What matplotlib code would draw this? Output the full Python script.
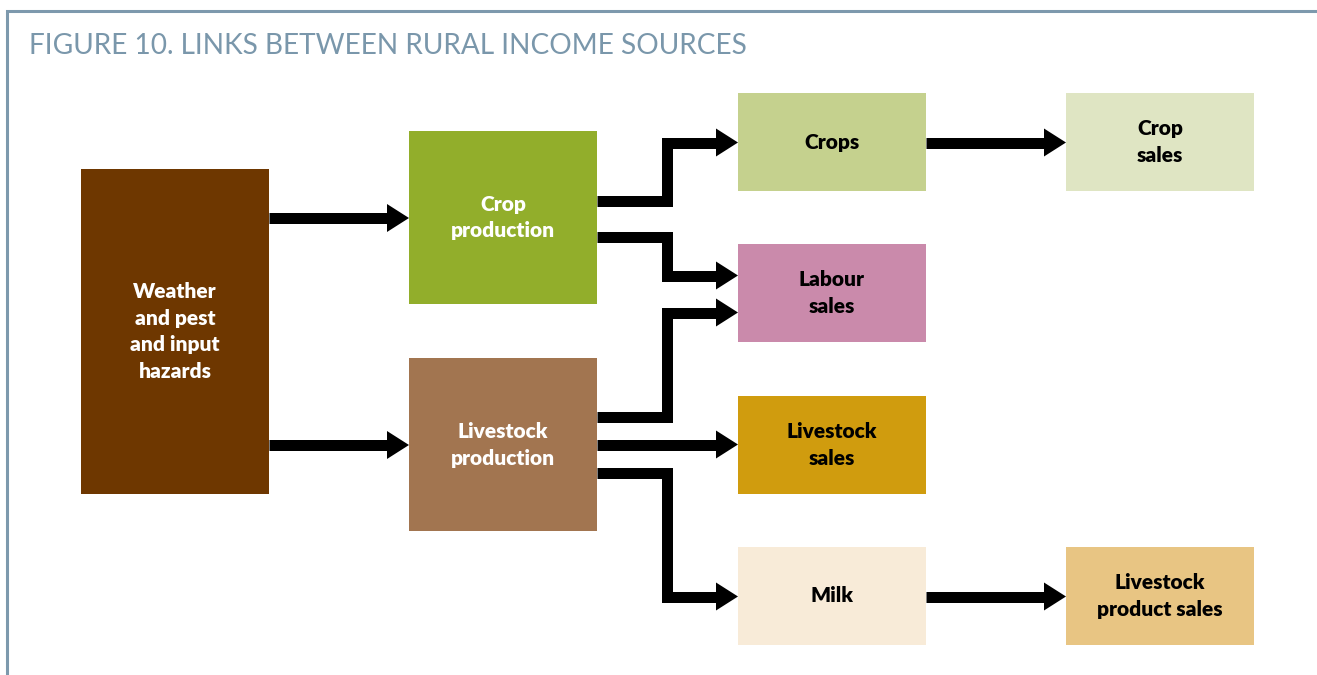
import matplotlib.pyplot as plt
from matplotlib.patches import Rectangle, Polygon

# boxes: label, (x0, y0, x1, y1) in pixels from top-left, fill, text colour
nombres = ["Weather\nand pest\nand input\nhazards", "Crop\nproduction", "Livestock\nproduction",
           "Crops", "Labour\nsales", "Livestock\nsales", "Milk", "Crop\nsales",
           "Livestock\nproduct sales"]
cajas = [(81, 169, 269, 494), (409, 131, 597, 304), (409, 358, 597, 531),
         (738, 93, 926, 191), (738, 244, 926, 342), (738, 396, 926, 494),
         (738, 547, 926, 645), (1066, 93, 1254, 191), (1066, 547, 1254, 645)]
rellenos = ["#6e3700", "#92ae2b", "#a27550", "#c5d18e", "#ca8aab", "#d09c0e",
            "#f8ebd8", "#dfe5c3", "#e8c583"]
colores_txt = ["white", "white", "white", "black", "black", "black", "black", "black", "black"]

# arrow paths (elbow connectors), last point is the arrow tip
flechas = [
    [(269, 218), (409, 218)],
    [(269, 445), (409, 445)],
    [(597, 200.5), (667, 200.5), (667, 142.5), (738, 142.5)],
    [(597, 237), (667, 237), (667, 275.5), (738, 275.5)],
    [(597, 416.5), (667, 416.5), (667, 312.5), (738, 312.5)],
    [(597, 444.5), (738, 444.5)],
    [(597, 472.5), (667, 472.5), (667, 596.5), (738, 596.5)],
    [(926, 142.5), (1066, 142.5)],
    [(926, 596.5), (1066, 596.5)],
]

W, H = 1317, 675
ventana = plt.figure(figsize=(W / 100, H / 100), dpi=100)
plano = ventana.add_axes([0, 0, 1, 1])
plano.set_xlim(0, W)
plano.set_ylim(H, 0)
plano.axis('off')

# frame
borde = "#7d99ad"
plano.plot([7, 7, W], [H, 11, 11], color=borde, lw=2.2, solid_joinstyle='miter')

plano.text(29, 46, "FIGURE 10. LINKS BETWEEN RURAL INCOME SOURCES", color="#7a97ab",
           fontsize=20.2, family="Lato", va="center", ha="left")

for nom, (x0, y0, x1, y1), c, tc in zip(nombres, cajas, rellenos, colores_txt):
    plano.add_patch(Rectangle((x0, y0), x1 - x0, y1 - y0, facecolor=c, edgecolor='none'))
    plano.text((x0 + x1) / 2, (y0 + y1) / 2, nom, color=tc, fontsize=15, family="Lato",
               weight="heavy", ha="center", va="center", linespacing=1.5)

grosor = 11 * 72 / 100
largo_punta = 21
media_punta = 14
for camino in flechas:
    xs = [p[0] for p in camino]
    ys = [p[1] for p in camino]
    xs[-1] = xs[-1] - largo_punta
    plano.plot(xs, ys, color="black", lw=grosor, solid_joinstyle='miter', solid_capstyle='butt')
    xt, yt = camino[-1]
    plano.add_patch(Polygon([(xt - largo_punta - 1, yt - media_punta), (xt, yt),
                             (xt - largo_punta - 1, yt + media_punta)],
                            closed=True, facecolor="black", edgecolor='none'))

ventana.savefig("out.png", dpi=100)
